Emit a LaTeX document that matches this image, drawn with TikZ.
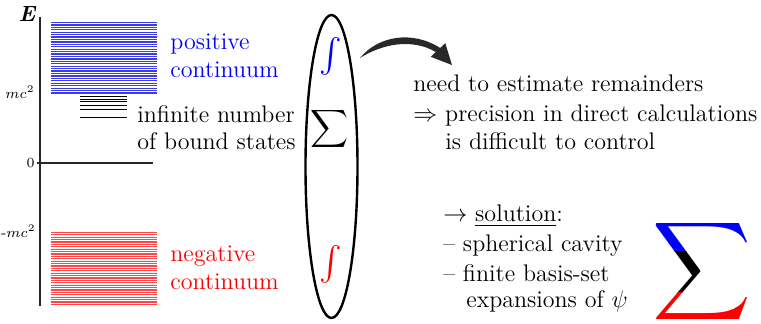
\documentclass[tikz,border=0pt]{standalone}
\usepackage{graphicx}
\usetikzlibrary{arrows.meta}
\definecolor{bline}{RGB}{60,60,225}
\definecolor{rline}{RGB}{255,70,70}
\definecolor{arrowgray}{RGB}{40,40,40}
\newcommand\bodyfont{\fontsize{12}{14}\selectfont}
\tikzset{
  txt/.style={anchor=base west, inner sep=0pt, font=\bodyfont},
  lbl/.style={inner sep=0pt, font=\fontsize{7}{8}\selectfont},
  bluelev/.style={draw=bline, line width=0.6pt},
  redlev/.style={draw=rline, line width=0.6pt},
  boundlev/.style={draw=black, line width=0.5pt},
  axisline/.style={draw=black!85, line width=0.8pt},
}
\begin{document}
\begin{tikzpicture}[x=0.5pt,y=-0.5pt]
\useasboundingbox (0,0) rectangle (761,324);

% ---- energy axis ----
\coordinate (axtop) at (40,17);
\coordinate (axbot) at (40,306);
\draw[axisline] (axtop) -- (axbot);
\coordinate (zl) at (37,163);
\coordinate (zr) at (153,163);
\draw[axisline] (zl) -- (zr);
\node[inner sep=0pt, font=\fontsize{11}{12}\selectfont\bfseries\itshape] (E) at (27,14) {E};
\node[lbl, anchor=east] (mc) at (35,92) {$mc^2$};
\node[lbl, anchor=east] (zero) at (35,163) {0};
\node[lbl, anchor=east] (mmc) at (36,231) {-$mc^2$};

% ---- positive continuum ----
\foreach \i in {0,...,29} {
  \draw[bluelev] (51,{22.5+\i*2.43}) -- (157,{22.5+\i*2.43});
}
% ---- bound states ----
\foreach \yy in {97,99.3,101.7,105.2,110,117.3} {
  \draw[boundlev] (80,\yy) -- (127,\yy);
}
% ---- negative continuum ----
\foreach \i in {0,...,30} {
  \draw[redlev] (51,{232.5+\i*2.4}) -- (157,{232.5+\i*2.4});
}

% ---- left texts ----
\node[txt, text=blue] (pos1) at (170,50) {positive};
\node[txt, text=blue] (pos2) at (170,78) {continuum};
\node[txt] (bnd1) at (137,123) {infinite number};
\node[txt] (bnd2) at (137,150) {of bound states};
\node[txt, text=red] (neg1) at (170,262) {negative};
\node[txt, text=red] (neg2) at (170,290) {continuum};

% ---- ellipse with symbols ----
\draw[line width=1.2pt] (331.5,166.5) ellipse [x radius=26, y radius=151.5];
\node[inner sep=0pt, text=blue] (intp) at (331,56) {\scalebox{1.7}{$\int$}};
\node[inner sep=0pt] (sig) at (330,129) {\scalebox{1.32}{$\displaystyle\sum$}};
\node[inner sep=0pt, text=red] (intn) at (331,264) {\scalebox{1.7}{$\int$}};

% ---- curved arrow ----
\fill[arrowgray] (360,58) .. controls (378,36) and (412,30) .. (440.2,48)
  -- (445.3,43.2) -- (452,65) -- (430.7,56.8) -- (435.8,52)
  .. controls (412,38) and (382,44) .. (360,58) -- cycle;

% ---- right texts ----
\node[txt] (need) at (413,92) {need to estimate remainders};
\node[txt] (prec) at (413,122) {$\Rightarrow$ precision in direct calculations};
\node[txt] (diff) at (445,150) {is difficult to control};
\node[txt] (sol) at (443,222) {$\rightarrow$ \underline{solution}:};
\node[txt] (sph) at (443,252) {-- spherical cavity};
\node[txt] (fin) at (443,282) {-- finite basis-set};
\node[txt] (exp) at (466,308) {expansions of $\psi$};

% ---- big coloured sigma ----
\begin{scope}
  \clip (640,215) rectangle (761,252);
  \node[inner sep=0pt, text=blue] (bs1) at (702,272) {\scalebox{3.43}{$\displaystyle\sum$}};
\end{scope}
\begin{scope}
  \clip (640,252) rectangle (761,293);
  \node[inner sep=0pt, text=black] (bs2) at (702,272) {\scalebox{3.43}{$\displaystyle\sum$}};
\end{scope}
\begin{scope}
  \clip (640,293) rectangle (761,324);
  \node[inner sep=0pt, text=red] (bs3) at (702,272) {\scalebox{3.43}{$\displaystyle\sum$}};
\end{scope}
\end{tikzpicture}
\end{document}
